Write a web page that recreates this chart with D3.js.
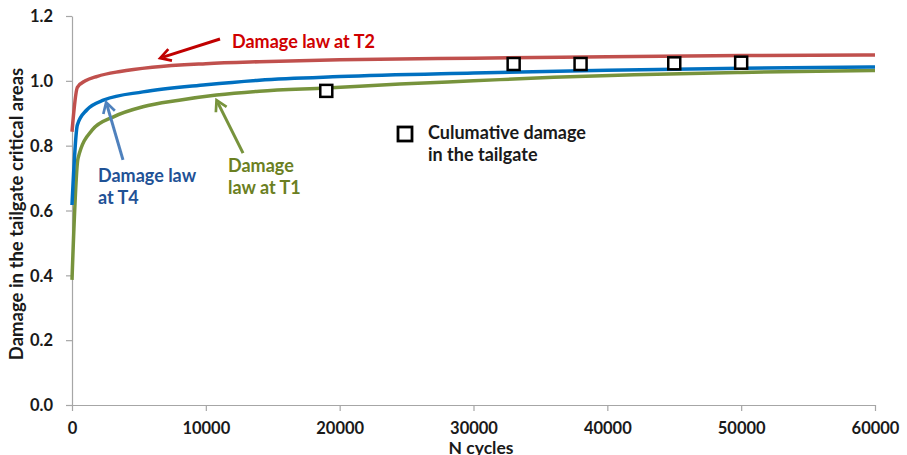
<!DOCTYPE html>
<html><head><meta charset="utf-8">
<script src="https://cdn.jsdelivr.net/npm/d3@7"></script>
<style>
html,body{margin:0;padding:0;background:#fff;}
svg{display:block;font-family:Lato,"Open Sans",sans-serif;font-weight:bold;}
</style></head>
<body>
<svg id="chart" width="907" height="455"></svg>
<script>
// ---- data ----
const xTicks = [0, 10000, 20000, 30000, 40000, 50000, 60000];
const yTicks = [0, 0.2, 0.4, 0.6, 0.8, 1.0, 1.2];

const lawT2 = [[0,0.843],[400,0.98],[1000,1.0],[1900,1.014],[3600,1.029],[6000,1.042],[10000,1.053],[14000,1.059],[20000,1.065],[30000,1.070],[40000,1.074],[50000,1.078],[60000,1.080]];
const lawT4 = [[0,0.617],[400,0.864],[1100,0.91],[2400,0.941],[5300,0.966],[10000,0.988],[14000,1.002],[20000,1.013],[30000,1.024],[40000,1.033],[50000,1.039],[60000,1.043]];
const lawT1 = [[0,0.386],[450,0.761],[1500,0.848],[3100,0.889],[5300,0.92],[8000,0.94],[10800,0.956],[14000,0.968],[19000,0.978],[24500,0.99],[30000,1.0],[36000,1.011],[42000,1.019],[50000,1.026],[60000,1.032]];

const cumN = [19000, 33000, 38000, 45000, 50000];
const cumDamage = [0.969, 1.052, 1.052, 1.054, 1.056];

const seriesNames = ["Damage law at T2", "Damage law at T4", "Damage law at T1"];
const legendLabel = ["Culumative damage", "in the tailgate"];
const xTitle = "N cycles";
const yTitle = "Damage in the tailgate critical areas";

// ---- layout ----
const svg = d3.select("#chart");
const x = d3.scaleLinear().domain([0, 60000]).range([72, 875]);
const y = d3.scaleLinear().domain([0, 1.2]).range([405, 16]);

const axisColor = "#a6a6a6";
const textColor = "#1a1a1a";

// axes
const xAxis = svg.append("g").attr("transform", `translate(0,${y(0)})`)
  .call(d3.axisBottom(x).tickValues(xTicks).tickFormat(d3.format("d")).tickSize(6).tickSizeOuter(0));
const yAxis = svg.append("g").attr("transform", `translate(${x(0)},0)`)
  .call(d3.axisLeft(y).tickValues(yTicks).tickFormat(d3.format(".1f")).tickSize(6).tickSizeOuter(0));
[xAxis, yAxis].forEach(g => {
  g.select(".domain").attr("stroke", axisColor).attr("stroke-width", 1.2);
  g.selectAll(".tick line").attr("stroke", axisColor).attr("stroke-width", 1.2);
  g.selectAll(".tick text").attr("fill", textColor).attr("font-size", 16.5)
    .attr("font-family", "Lato, sans-serif").attr("font-weight", "bold");
});
xAxis.selectAll(".tick text").attr("dy", 0).attr("y", 29);
yAxis.selectAll(".tick text").attr("x", -19).attr("dy", "0.35em");

// axis titles
svg.append("text").attr("x", 481).attr("y", 454).attr("text-anchor", "middle")
  .attr("font-size", 17.5).attr("fill", textColor).text(xTitle);
svg.append("text").attr("transform", `translate(23,214) rotate(-90)`).attr("text-anchor", "middle")
  .attr("font-size", 18.5).attr("fill", textColor).text(yTitle);

// lines
const line = d3.line().x(d => x(d[0])).y(d => y(d[1])).curve(d3.curveMonotoneX);
const lineColors = ["#c0504d", "#0070c0", "#77933c"];
[lawT1, lawT4, lawT2].forEach((data, i) => {
  const c = [lineColors[2], lineColors[1], lineColors[0]][i];
  svg.append("path").datum(data).attr("d", line).attr("fill", "none")
    .attr("stroke", c).attr("stroke-width", 3.5).attr("stroke-linejoin", "round");
});

// cumulative damage squares
svg.append("g").selectAll("rect").data(cumN.map((n, i) => [n, cumDamage[i]])).join("rect")
  .attr("x", d => x(d[0]) - 6).attr("y", d => y(d[1]) - 6)
  .attr("width", 12).attr("height", 12)
  .attr("fill", "#fff").attr("stroke", "#000").attr("stroke-width", 2.5);

// legend
svg.append("rect").attr("x", 398).attr("y", 127).attr("width", 14).attr("height", 14)
  .attr("fill", "#fff").attr("stroke", "#000").attr("stroke-width", 2.8);
svg.append("text").attr("x", 428).attr("y", 139).attr("font-size", 18).attr("fill", textColor).text(legendLabel[0]);
svg.append("text").attr("x", 428).attr("y", 161).attr("font-size", 18).attr("fill", textColor).text(legendLabel[1]);

// annotations with arrows
const defs = svg.append("defs");
function arrow(id, color) {
  defs.append("marker").attr("id", id).attr("viewBox", "0 0 10 10").attr("refX", 6).attr("refY", 5)
    .attr("markerWidth", 5).attr("markerHeight", 5).attr("orient", "auto")
    .append("path").attr("d", "M1,1 L8,5 L1,9").attr("fill", "none").attr("stroke", color).attr("stroke-width", 1.8);
}
const annots = [
  {id:"aT2", arrowColor:"#c00000", textColor:"#d00000", from:[11058,1.129], to:[6800,1.073], lines:[seriesNames[0]], tx:232, ty:48},
  {id:"aT4", arrowColor:"#4f81bd", textColor:"#1f5296", from:[3810,0.756], to:[2615,0.925], lines:["Damage law","at T4"], tx:98, ty:182},
  {id:"aT1", arrowColor:"#77933c", textColor:"#6b7f22", from:[12780,0.777], to:[10900,0.932], lines:["Damage","law at T1"], tx:228, ty:172}
];
annots.forEach(a => {
  arrow(a.id, a.arrowColor);
  svg.append("line").attr("x1", x(a.from[0])).attr("y1", y(a.from[1]))
    .attr("x2", x(a.to[0])).attr("y2", y(a.to[1]))
    .attr("stroke", a.arrowColor).attr("stroke-width", 3).attr("marker-end", `url(#${a.id})`);
  a.lines.forEach((t, i) => {
    svg.append("text").attr("x", a.tx).attr("y", a.ty + i * 22).attr("font-size", 18)
      .attr("fill", a.textColor).text(t);
  });
});
</script>
</body></html>
